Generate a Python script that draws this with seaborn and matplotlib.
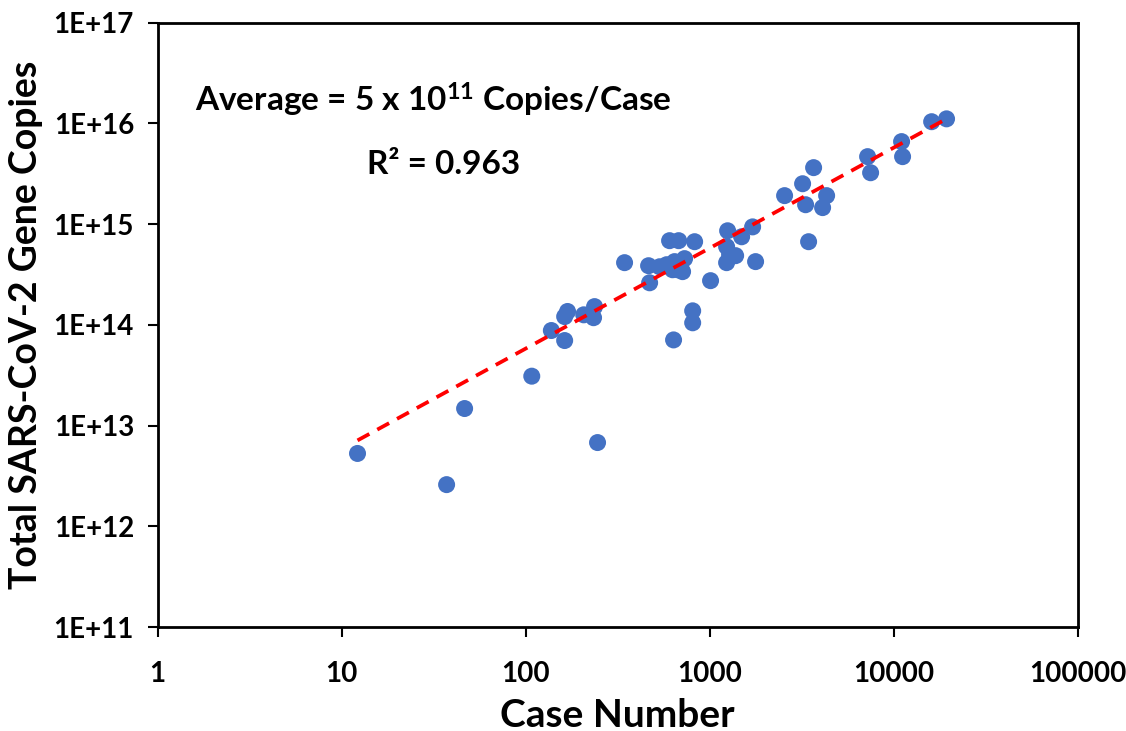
import matplotlib.pyplot as plt
import matplotlib.ticker as mticker
import numpy as np
import pandas as pd
import seaborn as sns

sns.set_theme(style="white")
plt.rcParams["font.family"] = ["Lato", "DejaVu Sans"]
plt.rcParams["font.weight"] = "bold"
plt.rcParams["text.color"] = "black"
plt.rcParams["axes.labelcolor"] = "black"
plt.rcParams["mathtext.fontset"] = "custom"
plt.rcParams["mathtext.rm"] = "Lato:bold"
plt.rcParams["mathtext.it"] = "Lato:bold"
plt.rcParams["mathtext.bf"] = "Lato:bold"

BLUE = "#4472C4"
RED = "#FF0000"

# values (log-log scatter)
case_number = [12.2, 37.2, 46.6, 108, 246, 138, 163, 163, 169, 207,
               237, 234, 345, 466, 535, 584, 645, 731, 629, 670,
               713, 472, 606, 679, 829, 1012, 809, 809, 637, 1253,
               1493, 1713, 1237, 1284, 1385, 1237, 1778, 3452, 2556, 3202,
               3675, 3325, 4325, 4113, 7223, 7500, 11050, 11190, 16100, 19400]
gene_copies = [5.3e12, 2.6e12, 1.48e13, 3.1e13, 6.8e12, 8.8e13, 7.0e13, 1.21e14, 1.36e14, 1.26e14,
               1.52e14, 1.18e14, 4.15e14, 3.87e14, 3.78e14, 3.96e14, 4.25e14, 4.55e14, 3.53e14, 3.53e14,
               3.38e14, 2.62e14, 6.86e14, 6.86e14, 6.7e14, 2.75e14, 1.38e14, 1.05e14, 7.1e13, 8.6e14,
               7.5e14, 9.4e14, 5.98e14, 4.98e14, 4.87e14, 4.15e14, 4.25e14, 6.7e14, 1.92e15, 2.52e15,
               3.64e15, 1.56e15, 1.92e15, 1.46e15, 4.68e15, 3.24e15, 6.6e15, 4.68e15, 1.04e16, 1.11e16]

# power-law trendline as drawn in the reference: copies = coef * cases ** exponent
fit_coef = 5.9e11
fit_exponent = 0.997

x_ticks = [1, 10, 100, 1000, 10000, 100000]
y_ticks = [1e11, 1e12, 1e13, 1e14, 1e15, 1e16, 1e17]

df = pd.DataFrame({"cases": case_number, "copies": gene_copies})

fit_x = np.array([df["cases"].min(), df["cases"].max()])
fit = pd.DataFrame({"cases": fit_x, "copies": fit_coef * fit_x ** fit_exponent})

fig = plt.figure(figsize=(11.26, 7.31), dpi=100)
ax = fig.add_axes([0.140, 0.142, 0.817, 0.827])

sns.lineplot(data=fit, x="cases", y="copies", color=RED, linewidth=2.7,
             linestyle=(0, (3.6, 2.4)), ax=ax, zorder=3)
sns.scatterplot(data=df, x="cases", y="copies", color=BLUE, s=150,
                edgecolor="none", ax=ax, zorder=2)

ax.set_xscale("log")
ax.set_yscale("log")
ax.set_xlim(1, 100000)
ax.set_ylim(1e11, 1e17)
ax.set_xticks(x_ticks)
ax.set_yticks(y_ticks)
ax.xaxis.set_minor_locator(mticker.NullLocator())
ax.yaxis.set_minor_locator(mticker.NullLocator())
ax.xaxis.set_major_formatter(mticker.FuncFormatter(lambda v, _: f"{v:.0f}"))
ax.yaxis.set_major_formatter(mticker.FuncFormatter(lambda v, _: f"1E+{int(round(np.log10(v)))}"))

ax.tick_params(axis="both", which="major", direction="out", length=7, width=1.5,
               color="black", labelsize=20, labelcolor="black")
ax.tick_params(axis="x", pad=17)
ax.tick_params(axis="y", pad=10)
ax.tick_params(left=True, bottom=True)
for lbl in ax.get_xticklabels() + ax.get_yticklabels():
    lbl.set_fontweight("bold")

for side in ["left", "right", "top", "bottom"]:
    ax.spines[side].set_visible(True)
    ax.spines[side].set_color("black")
    ax.spines[side].set_linewidth(2)

ax.set_xlabel("Case Number", fontsize=28, fontweight="bold", labelpad=8)
ax.set_ylabel("Total SARS-CoV-2 Gene Copies", fontsize=27, fontweight="bold", labelpad=8)

ax.text(0.041, 0.872, "Average = 5 x 10$^{11}$ Copies/Case", transform=ax.transAxes,
        fontsize=24, fontweight="bold", va="center", ha="left")
ax.text(0.228, 0.765, "R\u00b2 = 0.963", transform=ax.transAxes,
        fontsize=24, fontweight="bold", va="center", ha="left")

fig.savefig("out.png", dpi=100)
